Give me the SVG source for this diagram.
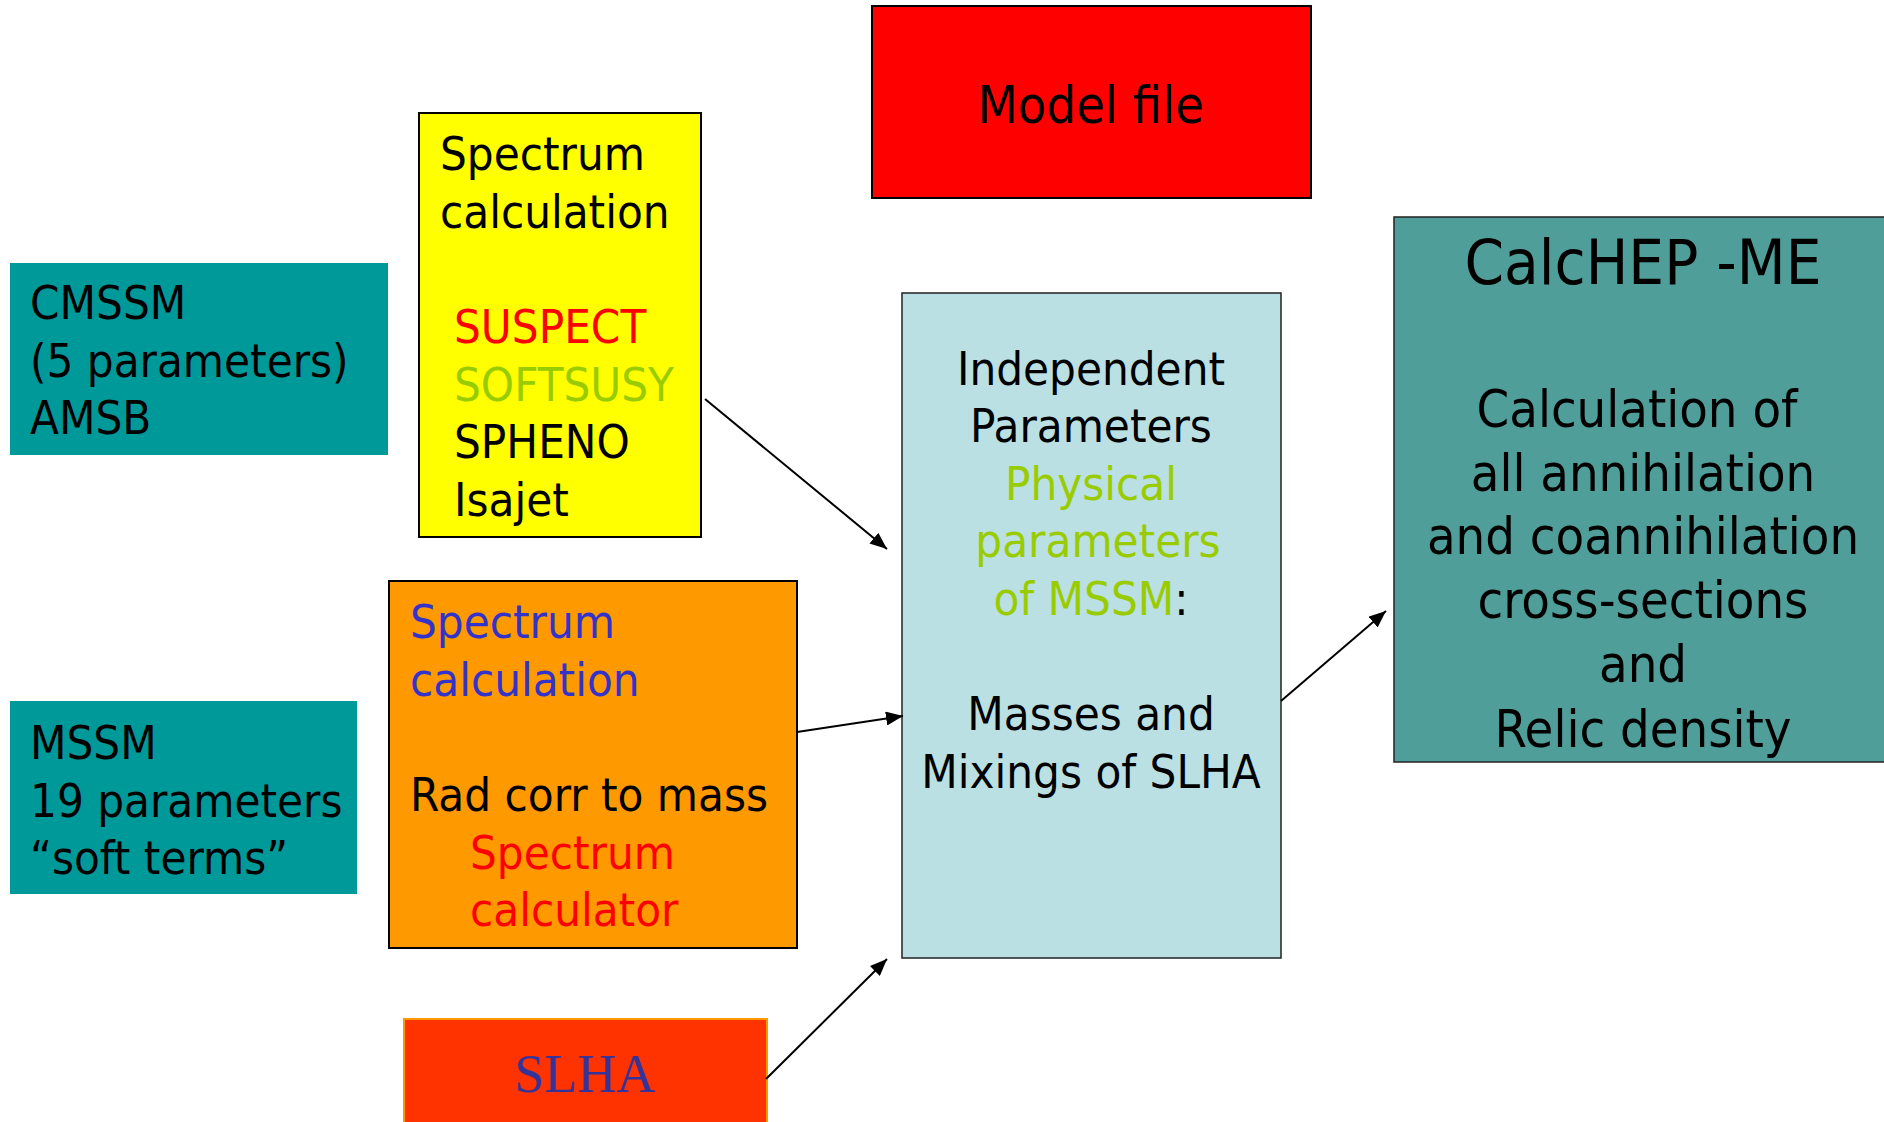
<svg xmlns="http://www.w3.org/2000/svg" width="1884" height="1122" viewBox="0 0 1884 1122">
<defs>
<style>
.t{font-family:"DejaVu Sans Condensed","Liberation Sans",sans-serif;font-size:47px;fill:#000}
.big{font-size:52px}
.huge{font-size:63px}
.c{text-anchor:middle}
.red{fill:#FF0000}
.grn{fill:#99CC00}
.blu{fill:#3333CC}
.conn{stroke:#000;stroke-width:2;fill:none;marker-end:url(#ah)}
</style>
<marker id="ah" markerUnits="userSpaceOnUse" markerWidth="18" markerHeight="14" refX="17" refY="7" orient="auto">
<path d="M0,0 L17,7 L0,14 z" fill="#000"/>
</marker>
</defs>
<rect width="1884" height="1122" fill="#fff"/>

<g id="model-file">
<rect x="872" y="6" width="439" height="192" fill="#FF0000" stroke="#000" stroke-width="2"/>
<text class="t big c" x="1091" y="123">Model file</text>
</g>

<g id="cmssm">
<rect x="10" y="263" width="378" height="192" fill="#009999"/>
<text class="t" x="30" y="319">CMSSM</text>
<text class="t" x="30" y="377">(5 parameters)</text>
<text class="t" x="30" y="434">AMSB</text>
</g>

<g id="mssm">
<rect x="10" y="701" width="347" height="193" fill="#009999"/>
<text class="t" x="30" y="759">MSSM</text>
<text class="t" x="30" y="817">19 parameters</text>
<text class="t" x="30" y="874">“soft terms”</text>
</g>

<g id="spectrum-calc">
<rect x="419" y="113" width="282" height="424" fill="#FFFF00" stroke="#000" stroke-width="2"/>
<text class="t" x="440" y="170">Spectrum</text>
<text class="t" x="440" y="228">calculation</text>
<text class="t red" x="454" y="343">SUSPECT</text>
<text class="t grn" x="454" y="401">SOFTSUSY</text>
<text class="t" x="454" y="458">SPHENO</text>
<text class="t" x="454" y="516">Isajet</text>
</g>

<g id="rad-corr">
<rect x="389" y="581" width="408" height="367" fill="#FF9900" stroke="#000" stroke-width="2"/>
<text class="t blu" x="410" y="638">Spectrum</text>
<text class="t blu" x="410" y="696">calculation</text>
<text class="t" x="410" y="811">Rad corr to mass</text>
<text class="t red" x="470" y="869">Spectrum</text>
<text class="t red" x="470" y="926">calculator</text>
</g>

<g id="slha">
<rect x="404" y="1019" width="363" height="110" fill="#FF3300" stroke="#FF9900" stroke-width="2"/>
<text x="585" y="1092" text-anchor="middle" style="font-family:'Liberation Serif',serif;font-size:54px;fill:#333399">SLHA</text>
</g>

<g id="parameters">
<rect x="902" y="293" width="379" height="665" fill="#BBE0E3" stroke="#222" stroke-width="1.5"/>
<text class="t c" x="1091" y="385">Independent</text>
<text class="t c" x="1091" y="442">Parameters</text>
<text class="t c grn" x="1091" y="500">Physical</text>
<text class="t c grn" x="1098" y="557">parameters</text>
<text class="t c" x="1091" y="615"><tspan class="grn">of MSSM</tspan>:</text>
<text class="t c" x="1091" y="730">Masses and</text>
<text class="t c" x="1091" y="788">Mixings of SLHA</text>
</g>

<g id="calchep">
<rect x="1394" y="217" width="494" height="545" fill="#4F9E9A" stroke="#222" stroke-width="1.5"/>
<text class="t huge c" x="1643" y="284">CalcHEP -ME</text>
<text class="t big c" x="1637" y="427">Calculation of</text>
<text class="t big c" x="1643" y="491">all annihilation</text>
<text class="t big c" x="1643" y="554">and coannihilation</text>
<text class="t big c" x="1643" y="618">cross-sections</text>
<text class="t big c" x="1643" y="682">and</text>
<text class="t big c" x="1643" y="747">Relic density</text>
</g>

<g id="connectors">
<line class="conn" x1="705" y1="399" x2="887" y2="549"/>
<line class="conn" x1="797" y1="732" x2="903" y2="716"/>
<line class="conn" x1="766" y1="1079" x2="887" y2="959"/>
<line class="conn" x1="1281" y1="701" x2="1386" y2="611"/>
</g>
</svg>
